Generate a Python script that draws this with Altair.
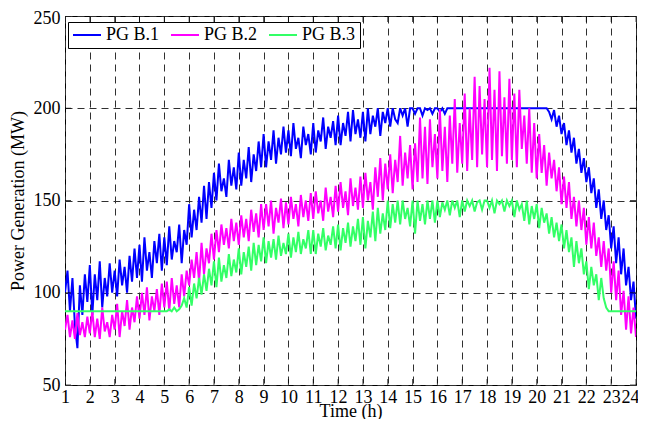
import altair as alt
import pandas as pd

# ---- data (0.1 h steps from 1.0 h to 24.0 h) ----
NAMES = ["PG B.1", "PG B.2", "PG B.3"]
COLORS = ["#0000FF", "#FF00FF", "#33FF66"]
HOURS = list(range(1, 25))
Y_TICKS = [50, 100, 150, 200, 250]

B1 = [
    100, 112, 90, 108, 82, 70, 104, 88, 110, 95,
    115, 88, 110, 96, 117, 92, 108, 98, 116, 100,
    112, 98, 118, 104, 114, 100, 120, 106, 124, 108,
    126, 106, 130, 112, 122, 108, 128, 116, 132, 112,
    130, 115, 136, 118, 128, 122, 137, 116, 134, 126,
    148, 130, 145, 134, 152, 138, 158, 140, 160, 146,
    165, 150, 170, 155, 162, 152, 172, 158, 168, 156,
    176, 158, 172, 162, 179, 160, 175, 166, 182, 168,
    186, 168, 182, 172, 188, 170, 184, 175, 190, 176,
    188, 174, 192, 178, 184, 173, 190, 180, 186, 175,
    192, 176, 188, 182, 195, 178, 190, 184, 193, 180,
    196, 180, 192, 185, 198, 182, 199, 186, 194, 184,
    198, 182, 200, 186, 196, 190, 200, 185, 198, 192,
    200, 190, 200, 194, 192, 200, 196, 200, 190, 200,
    200, 197, 200, 200, 196, 200, 199, 200, 197, 200,
    200, 198, 200, 197, 200, 200, 200, 200, 200, 200,
    200, 200, 200, 200, 200, 200, 200, 200, 200, 200,
    200, 200, 200, 200, 200, 200, 200, 200, 200, 200,
    200, 200, 200, 200, 200, 200, 200, 200, 200, 200,
    200, 200, 200, 200, 200, 198, 194, 199, 190, 196,
    186, 192, 180, 188, 176, 184, 170, 178, 165, 173,
    160, 168, 154, 162, 146, 156, 140, 150, 134, 142,
    124, 136, 116, 130, 110, 124, 104, 114, 96, 106,
    86,
]

B2 = [
    80, 88, 76, 85, 75, 89, 77, 84, 76, 87,
    78, 90, 76, 86, 75, 92, 79, 84, 76, 88,
    80, 94, 76, 90, 82, 96, 80, 92, 84, 98,
    86, 100, 88, 103, 85, 98, 90, 102, 88, 105,
    92, 106, 90, 108, 94, 104, 92, 110, 98, 112,
    104, 118, 108, 122, 106, 127, 110, 124, 116, 132,
    118, 134, 122, 137, 126, 135, 124, 140, 128, 138,
    126, 142, 130, 140, 128, 145, 133, 143, 130, 148,
    134, 148, 136, 150, 132, 146, 138, 151, 135, 149,
    137, 152, 140, 148, 136, 153, 141, 150, 139, 154,
    140, 155, 143, 150, 139, 157, 144, 152, 141, 158,
    144, 160, 146, 155, 142, 162, 147, 157, 145, 163,
    146, 165, 150, 160, 145, 168, 152, 173, 150, 170,
    156, 175, 154, 172, 160, 185, 158, 176, 162, 180,
    156, 181, 160, 195, 162, 190, 159, 194, 168, 186,
    162, 199, 166, 190, 160, 196, 170, 205, 165, 192,
    170, 208, 166, 200, 172, 217, 168, 212, 175, 205,
    168, 222, 172, 210, 166, 220, 174, 206, 170, 216,
    172, 208, 168, 210, 178, 196, 170, 200, 165, 192,
    162, 186, 165, 180, 158, 176, 162, 172, 155, 168,
    148, 163, 146, 160, 140, 152, 136, 150, 134, 146,
    126, 141, 124, 138, 120, 130, 114, 128, 112, 124,
    100, 117, 96, 112, 88, 101, 80, 98, 78, 92,
    76,
]

B3 = [
    90, 90, 90, 90, 90, 90, 90, 90, 90, 90,
    90, 90, 90, 90, 90, 90, 90, 90, 90, 90,
    90, 90, 90, 90, 90, 90, 90, 90, 90, 90,
    90, 90, 90, 90, 90, 90, 90, 90, 90, 90,
    90, 90, 91, 90, 92, 90, 91, 93, 97, 92,
    103, 93, 105, 97, 108, 99, 110, 101, 113, 104,
    117, 103, 119, 106, 115, 108, 121, 109, 118, 111,
    124, 110, 122, 114, 125, 112, 127, 115, 126, 117,
    130, 116, 128, 119, 129, 118, 131, 120, 127, 121,
    132, 119, 130, 122, 133, 121, 129, 124, 134, 121,
    134, 121, 132, 125, 135, 123, 131, 126, 136, 124,
    137, 123, 135, 127, 138, 125, 136, 128, 140, 126,
    141, 124, 139, 130, 144, 128, 146, 132, 143, 134,
    150, 135, 148, 138, 150, 137, 150, 140, 146, 136,
    150, 132, 150, 139, 148, 137, 150, 140, 150, 138,
    150, 141, 149, 145, 150, 142, 150, 146, 150, 141,
    150, 144, 150, 147, 150, 144, 149, 150, 145, 150,
    150, 146, 150, 143, 150, 148, 150, 144, 150, 147,
    150, 141, 150, 145, 148, 139, 150, 137, 147, 140,
    148, 135, 146, 138, 143, 132, 141, 130, 138, 128,
    137, 124, 134, 122, 130, 114, 128, 116, 124, 110,
    117, 102, 114, 104, 110, 96, 108, 97, 92, 90,
    90, 90, 90, 90, 90, 90, 90, 90, 90, 90,
    90,
]

T = [round(1 + i / 10, 1) for i in range(len(B1))]

rows = []
for name, series in zip(NAMES, [B1, B2, B3]):
    for t, v in zip(T, series):
        rows.append({"t": t, "v": v, "s": name})
df = pd.DataFrame(rows)

xt = pd.DataFrame([{"t": h, "v": y} for h in HOURS for y in (Y_TICKS[0], Y_TICKS[-1])])
yt = pd.DataFrame([{"t": x, "v": y} for y in Y_TICKS for x in (HOURS[0], HOURS[-1])])

FONT = "Liberation Serif"

xscale = alt.Scale(domain=[HOURS[0], HOURS[-1]], nice=False, zero=False)
yscale = alt.Scale(domain=[Y_TICKS[0], Y_TICKS[-1]], nice=False, zero=False)

xaxis = alt.Axis(values=HOURS, title="Time (h)", format="d",
                 labelPadding=3, labelOverlap=False, labelFlush=False,
                 labelOffset={"condition": {"test": "datum.value == 24", "value": -6},
                              "value": 0},
                 titleBaseline="alphabetic", titleY=31)
yaxis = alt.Axis(values=Y_TICKS, title="Power Generation (MW)", format="d",
                 labelPadding=5, titlePadding=6, labelOverlap=False,
                 labelFlush=False,
                 labelOffset={"condition": {"test": "datum.value == 250", "value": 2},
                              "value": 0})

X = alt.X("t:Q", scale=xscale, axis=xaxis, title="Time (h)")
Y = alt.Y("v:Q", scale=yscale, axis=yaxis, title="Power Generation (MW)")

lines = alt.Chart(df).mark_line(strokeWidth=2, clip=True).encode(
    x=X, y=Y,
    color=alt.Color("s:N", scale=alt.Scale(domain=NAMES, range=COLORS),
                    legend=alt.Legend(title=None, orient="none", legendX=3, legendY=6,
                                      direction="horizontal", symbolType="stroke",
                                      symbolSize=784, symbolStrokeWidth=2,
                                      labelFont=FONT, labelFontSize=18, labelColor="black",
                                      labelOffset=4, columnPadding=10, padding=4,
                                      clipHeight=18,
                                      strokeColor="black", fillColor="white")),
)

xticks = alt.Chart(xt).mark_tick(orient="vertical", size=12, thickness=1,
                                 color="black", clip=True).encode(x=X, y=Y)
yticks = alt.Chart(yt).mark_tick(orient="horizontal", size=12, thickness=1,
                                 color="black", clip=True).encode(x=X, y=Y)

chart = alt.layer(lines, xticks, yticks).properties(
    width=571, height=369,
    background="white",
    autosize=alt.AutoSizeParams(type="none"),
    padding={"left": 57, "top": 8, "right": 2, "bottom": 34},
).configure_view(
    stroke="black", strokeWidth=1
).configure_axis(
    labelFont=FONT, labelFontSize=18, labelColor="black",
    titleFont=FONT, titleFontSize=18, titleFontWeight="normal", titleColor="black",
    domain=False, ticks=False, grid=True, gridColor="#303030",
    gridDash=[7, 5], gridWidth=1, gridOpacity=1, labelOverlap=False,
)

chart.save("out.html", embed_options={"renderer": "svg", "actions": False})
